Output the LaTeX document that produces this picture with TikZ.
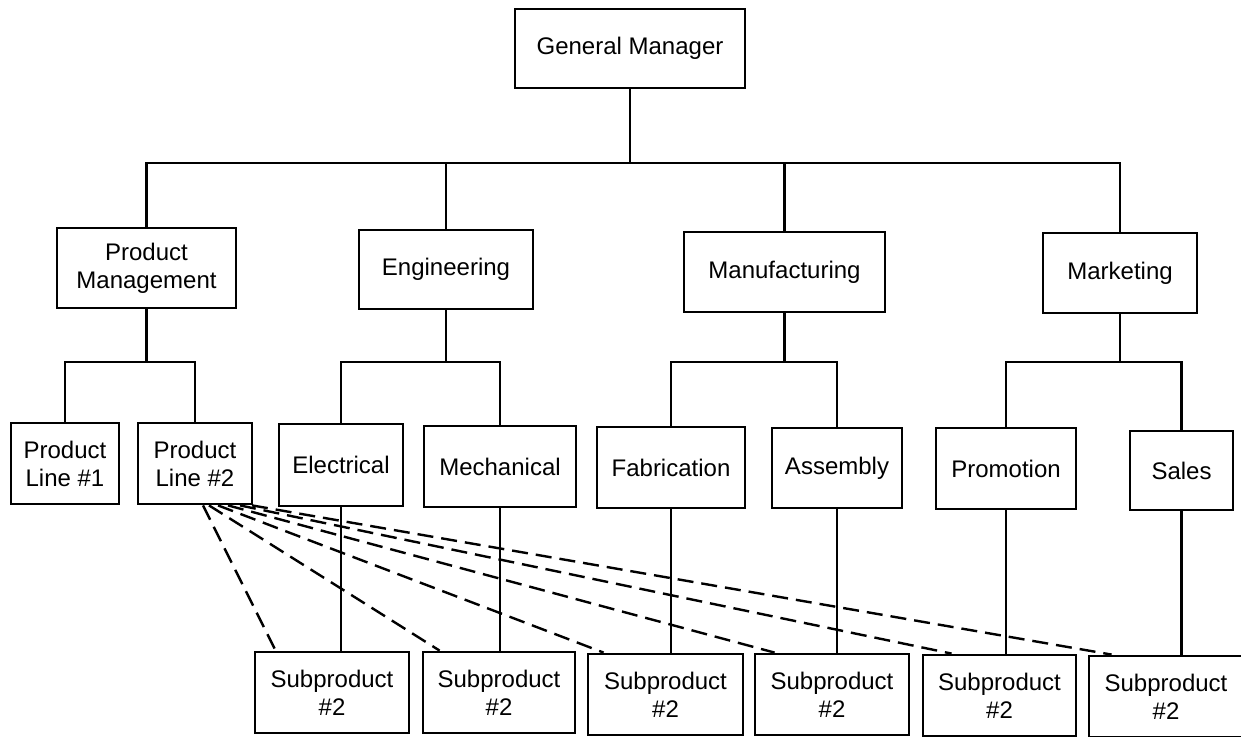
\documentclass[tikz,border=0pt]{standalone}
\usepackage{fontspec}
\setmainfont{Liberation Sans}
\usepackage{tikz}
\usetikzlibrary{calc}
\tikzset{
  unit/.style={draw, line width=1.4pt, inner sep=0pt, align=center,
    font=\fontsize{12}{14}\selectfont},
  link/.style={line width=1.1pt},
  dep/.style={line width=1.2pt, dash pattern=on 8pt off 4pt}
}
\newcommand{\orgbox}[6]{ \node[unit, minimum width=#4*0.5pt, minimum height=#5*0.5pt] (#1) at ( #2 , #3 ) {#6};}

\begin{document}
\begin{tikzpicture}[x=0.5pt, y=-0.5pt]
        \useasboundingbox (0,0) rectangle (1241,737);
        % top
        \orgbox{gm}{630}{48.5}{230}{79}{General Manager}
        % level 2
        \orgbox{pm}{146.5}{268}{179}{80}{Product\\Management}
        \orgbox{en}{446}{269.5}{174}{79}{Engineering}
        \orgbox{mf}{784.5}{272}{201}{80}{Manufacturing}
        \orgbox{mk}{1120}{273}{154}{80}{Marketing}
        % level 3
        \orgbox{pla}{65}{463.5}{108}{81}{Product\\Line \#1}
        \orgbox{plb}{195}{463.5}{114}{81}{Product\\Line \#2}
        \orgbox{el}{341}{465}{124}{82}{Electrical}
        \orgbox{me}{500}{466.5}{152}{81}{Mechanical}
        \orgbox{fa}{671}{467.5}{148}{81}{Fabrication}
        \orgbox{as}{837}{468}{130}{80}{Assembly}
        \orgbox{pr}{1006}{468.5}{140}{81}{Promotion}
        \orgbox{sa}{1181.5}{470.5}{103}{79}{Sales}
        % subproducts
        \orgbox{sa1}{332}{692.5}{154}{81}{Subproduct\\\#2}
        \orgbox{sa2}{499}{692.5}{152}{81}{Subproduct\\\#2}
        \orgbox{sa3}{665.5}{694.5}{155}{81}{Subproduct\\\#2}
        \orgbox{sa4}{832}{694.5}{154}{81}{Subproduct\\\#2}
        \orgbox{sa5}{999.5}{695.5}{153}{81}{Subproduct\\\#2}
        \orgbox{sa6}{1166}{696.5}{154}{81}{Subproduct\\\#2}

        % bus lines
        \coordinate (b0) at (0,163);
        \coordinate (b1) at (0,362);
        \draw[link] (gm.south) -- (gm.south |- b0);
        \draw[link] (pm.north) |- (mk.north |- b0) -- (mk.north);
        \draw[link] (en.north) -- (en.north |- b0);
        \draw[link] (mf.north) -- (mf.north |- b0);
        % product management
        \draw[link] (pm.south) -- (pm.south |- b1);
        \draw[link] (pla.north) |- (plb.north |- b1) -- (plb.north);
        % engineering
        \draw[link] (en.south) -- (en.south |- b1);
        \draw[link] (el.north) |- (me.north |- b1) -- (me.north);
        % manufacturing
        \draw[link] (mf.south) -- (mf.south |- b1);
        \draw[link] (fa.north) |- (as.north |- b1) -- (as.north);
        % marketing
        \draw[link] (mk.south) -- (mk.south |- b1);
        \draw[link] (pr.north) |- (sa.north |- b1) -- (sa.north);

        % down to subproducts
        \draw[link] (el.south) -- (el.south |- sa1.north);
        \draw[link] (me.south) -- (me.south |- sa2.north);
        \draw[link] (fa.south) -- (fa.south |- sa3.north);
        \draw[link] (as.south) -- (as.south |- sa4.north);
        \draw[link] (pr.south) -- (pr.south |- sa5.north);
        \draw[link] (sa.south) -- (sa.south |- sa6.north);

        % dashed lines from product line 2
        \draw[dep] ([xshift=4pt]plb.south) -- ([xshift=11pt]sa1.north west);
        \draw[dep] ([xshift=7pt]plb.south) -- ([xshift=9pt]sa2.north west);
        \draw[dep] ([xshift=11.5pt]plb.south) -- ([xshift=8.5pt]sa3.north west);
        \draw[dep] ([xshift=16.5pt]plb.south) -- ([xshift=10.5pt]sa4.north west);
        \draw[dep] ([xshift=22.5pt]plb.south) -- ([xshift=15pt]sa5.north west);
        \draw[dep] ([xshift=28.5pt]plb.south) -- ([xshift=12pt]sa6.north west);

    \end{tikzpicture}
\end{document}
